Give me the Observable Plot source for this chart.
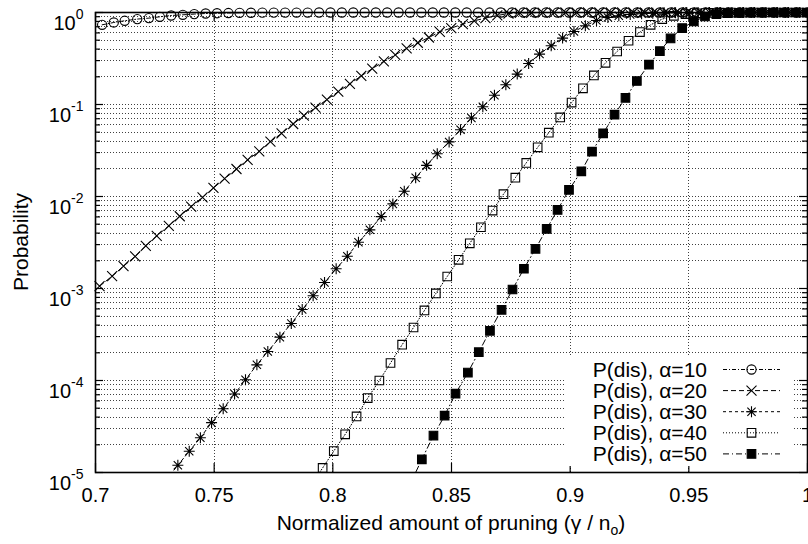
<!DOCTYPE html>
<html><head><meta charset="utf-8">
<script src="https://cdn.jsdelivr.net/npm/d3@7"></script>
<script src="https://cdn.jsdelivr.net/npm/@observablehq/plot@0.6"></script>
<style>
html,body{margin:0;padding:0;background:#fff;}
#chart{width:808px;height:544px;overflow:hidden;}
</style></head><body><div id="chart"></div>
<script>
// ---------- data ----------
const x10 = [0.7028,0.7077,0.7123,0.7176,0.7225,0.7271,0.7319,0.7368,0.7416,0.7464,0.7512,0.7560,0.7607,0.7655,0.7703,0.7751,0.7799,0.7847,0.7894,0.7942,0.7990,0.8038,0.8086,0.8134,0.8181,0.8229,0.8277,0.8325,0.8373,0.8421,0.8468,0.8516,0.8564,0.8612,0.8660,0.8708,0.8755,0.8803,0.8851,0.8899,0.8947,0.8995,0.9042,0.9090,0.9138,0.9186,0.9234,0.9282,0.9329,0.9377,0.9425,0.9473,0.9521,0.9569,0.9616,0.9664,0.9712,0.9760,0.9808,0.9856,0.9903,0.9951,0.9999];
const y10 = [0.735,0.779,0.813,0.848,0.869,0.898,0.928,0.944,0.961,0.975,0.982,0.987,0.991,0.994,0.996,0.997,0.998,0.999,0.999,1,1,1,1,1,1,1,1,1,1,1,1,1,1,1,1,1,1,1,1,1,1,1,1,1,1,1,1,1,1,1,1,1,1,1,1,1,1,1,1,1,1,1,1];

const x20 = [0.7017,0.7070,0.7118,0.7167,0.7212,0.7258,0.7309,0.7355,0.7403,0.7451,0.7497,0.7544,0.7594,0.7641,0.7690,0.7737,0.7784,0.7833,0.7878,0.7927,0.7975,0.8023,0.8072,0.8120,0.8166,0.8215,0.8263,0.8311,0.8358,0.8405,0.8451,0.8499,0.8548,0.8596,0.8643,0.8693,0.8740,0.8788,0.8836,0.8884,0.8932,0.8980,0.9027,0.9075,0.9123,0.9171,0.9219,0.9266,0.9314,0.9362,0.9410,0.9458,0.9506,0.9553,0.9601,0.9649,0.9697,0.9745,0.9793,0.9840,0.9888,0.9936,0.9984];
const y20 = [1.06e-3,1.36e-3,1.75e-3,2.23e-3,2.91e-3,3.73e-3,4.80e-3,6.10e-3,7.77e-3,9.80e-3,1.24e-2,1.56e-2,1.99e-2,2.50e-2,3.10e-2,3.95e-2,4.86e-2,6.14e-2,7.56e-2,9.23e-2,0.113,0.138,0.168,0.205,0.245,0.294,0.347,0.407,0.469,0.535,0.617,0.677,0.748,0.813,0.869,0.928,0.975,0.988,0.994,0.997,0.999,1,1,1,1,1,1,1,1,1,1,1,1,1,1,1,1,1,1,1,1,1,1];

const x30 = [0.7299,0.7347,0.7395,0.7442,0.7489,0.7538,0.7586,0.7632,0.7680,0.7726,0.7777,0.7825,0.7871,0.7917,0.7965,0.8014,0.8061,0.8108,0.8156,0.8204,0.8253,0.8301,0.8349,0.8395,0.8440,0.8490,0.8538,0.8584,0.8632,0.8681,0.8729,0.8777,0.8825,0.8871,0.8920,0.8968,0.9016,0.9064,0.9111,0.9159,0.9205,0.9253,0.9301,0.9348,0.9396,0.9444,0.9491,0.9539,0.9587,0.9634,0.9682,0.9730,0.9777,0.9825,0.9873,0.9920,0.9968];
const y30 = [8.4e-6,1.20e-5,1.70e-5,2.39e-5,3.48e-5,4.94e-5,7.12e-5,1.02e-4,1.48e-4,2.07e-4,2.96e-4,4.17e-4,5.91e-4,8.34e-4,1.16e-3,1.64e-3,2.24e-3,3.18e-3,4.34e-3,6.05e-3,8.31e-3,1.14e-2,1.60e-2,2.18e-2,2.92e-2,3.92e-2,5.32e-2,7.13e-2,9.46e-2,0.126,0.164,0.214,0.279,0.353,0.435,0.527,0.622,0.717,0.819,0.883,0.921,0.950,0.970,0.983,0.991,0.995,0.998,0.999,1,1,1,1,1,1,1,1,1];

const x40 = [0.7909,0.7957,0.8004,0.8052,0.8100,0.8147,0.8196,0.8243,0.8292,0.8340,0.8386,0.8434,0.8482,0.8530,0.8577,0.8624,0.8673,0.8719,0.8769,0.8815,0.8863,0.8910,0.8958,0.9006,0.9054,0.9100,0.9149,0.9198,0.9246,0.9294,0.9339,0.9388,0.9437,0.9486,0.9534,0.9582,0.9630,0.9677,0.9725,0.9773,0.9821,0.9868,0.9916,0.9964];
const y40 = [7.3e-6,1.12e-5,1.71e-5,2.60e-5,4.07e-5,6.44e-5,1.00e-4,1.55e-4,2.45e-4,3.77e-4,5.77e-4,8.83e-4,1.35e-3,2.05e-3,3.10e-3,4.63e-3,7.03e-3,1.06e-2,1.60e-2,2.32e-2,3.42e-2,4.94e-2,7.24e-2,0.105,0.150,0.207,0.284,0.377,0.493,0.612,0.735,0.848,0.921,0.961,0.980,0.990,0.995,0.998,0.999,1,1,1,1,1];

const x50 = [0.8327,0.8375,0.8424,0.8471,0.8517,0.8569,0.8615,0.8662,0.8711,0.8757,0.8805,0.8854,0.8901,0.8947,0.8995,0.9047,0.9092,0.9139,0.9187,0.9233,0.9281,0.9332,0.9378,0.9423,0.9472,0.9521,0.9568,0.9616,0.9663,0.9711,0.9759,0.9806,0.9854,0.9901,0.9949,0.9997];
const y50 = [7.6e-6,1.39e-5,2.52e-5,4.15e-5,7.19e-5,1.22e-4,2.03e-4,3.47e-4,5.87e-4,9.75e-4,1.64e-3,2.70e-3,4.45e-3,7.15e-3,1.18e-2,1.88e-2,3.07e-2,4.86e-2,7.75e-2,0.118,0.180,0.271,0.381,0.522,0.677,0.798,0.905,0.961,0.982,0.992,0.997,0.999,1,1,1,1];

const seriesNames = ["P(dis), α=10","P(dis), α=20","P(dis), α=30","P(dis), α=40","P(dis), α=50"];
const xTicks = [0.7,0.75,0.8,0.85,0.9,0.95,1.0];
const xTickLabels = ["0.7","0.75","0.8","0.85","0.9","0.95","1"];
const xGridTicks = [0.75,0.8,0.85,0.9,0.95];
const yMajor = [1e-5,1e-4,1e-3,1e-2,1e-1,1];
const yExponents = ["-5","-4","-3","-2","-1","0"];
const xLabel = "Normalized amount of pruning (γ / n";
const xLabelSub = "o";
const yLabel = "Probability";

// ---------- styling ----------
const FONT = "'Liberation Sans', Arial, Helvetica, sans-serif";
const W = 808, H = 544, ML = 95, MR = 1, MT = 12, MB = 72;
const FW = W - ML - MR, FH = H - MT - MB;

function mkSym(fn){ return {draw(ctx, size){ const r = Math.sqrt(size/Math.PI); fn(ctx, r); }}; }
const symCircle = mkSym((c,r)=>{ c.moveTo(r,0); c.arc(0,0,r,0,2*Math.PI); c.closePath(); });
const symTimes = mkSym((c,r)=>{ c.moveTo(-r,-r); c.lineTo(r,r); c.moveTo(-r,r); c.lineTo(r,-r); });
const symStar = mkSym((c,r)=>{ c.moveTo(-r,0); c.lineTo(r,0); c.moveTo(0,-r); c.lineTo(0,r); const d=r*0.75; c.moveTo(-d,-d); c.lineTo(d,d); c.moveTo(-d,d); c.lineTo(d,-d); });
const symSquare = mkSym((c,r)=>{ c.moveTo(-r,-r); c.lineTo(r,-r); c.lineTo(r,r); c.lineTo(-r,r); c.closePath(); });

const styles = [
  {sym: symCircle, r: 4.6, fill: "white", fillOpacity: 0, dash: "4,2,1,2"},
  {sym: symTimes,  r: 5,   fill: "none", dash: "5,3"},
  {sym: symStar,   r: 5.5, fill: "none", dash: "3,3"},
  {sym: symSquare, r: 4.3, fill: "white", fillOpacity: 0, dash: "1,2"},
  {sym: symSquare, r: 4.3, fill: "black", fillOpacity: 1, dash: "6,3,1,3"}
];
const xsAll = [x10,x20,x30,x40,x50], ysAll = [y10,y20,y30,y40,y50];
const tables = xsAll.map((xs,i)=> xs.map((x,j)=>({x, y: ysAll[i][j]})).filter(d=>d.y!==undefined));

const yGrid = d3.scaleLog().domain([1e-5,1]).ticks();
const yMinor = yGrid.filter(v => !yMajor.some(m => Math.abs(m - v) / m < 1e-9));

const gridStyle = {stroke: "#000", strokeOpacity: 0.75, strokeWidth: 1, strokeDasharray: "1,2", shapeRendering: "crispEdges"};
const marks = [
  Plot.gridY(yGrid, gridStyle),
  Plot.gridX(xGridTicks, gridStyle),
  Plot.ruleY(yMajor, {insetRight: FW - 8, stroke: "black", strokeWidth: 1.2}),
  Plot.ruleY(yMajor, {insetLeft: FW - 8, stroke: "black", strokeWidth: 1.2}),
  Plot.ruleY(yMinor, {insetRight: FW - 5, stroke: "black", strokeWidth: 1.2}),
  Plot.ruleY(yMinor, {insetLeft: FW - 5, stroke: "black", strokeWidth: 1.2}),
  Plot.ruleX(xTicks, {insetTop: FH - 9, stroke: "black", strokeWidth: 1.2}),
  Plot.ruleX(xTicks, {insetBottom: FH - 9, stroke: "black", strokeWidth: 1.2}),
  Plot.axisX({ticks: xTicks, tickSize: 0, tickPadding: 15, tickFormat: (d) => xTickLabels[xTicks.indexOf(d)], fontSize: 20, label: null}),
  Plot.axisY({ticks: yMajor, tickSize: 0, tickPadding: 12, tickFormat: (d) => yExponents[yMajor.indexOf(d)], fontSize: 20, label: null}),
];
tables.forEach((t,i)=>{
  const s = styles[i];
  marks.push(Plot.line(t, {x: "x", y: "y", stroke: "black", strokeWidth: 1, strokeDasharray: s.dash, clip: true}));
});
tables.forEach((t,i)=>{
  const s = styles[i];
  marks.push(Plot.dot(t.filter(d => d.y >= 1e-5), {x: "x", y: "y", symbol: s.sym, r: s.r, stroke: "black", strokeWidth: 1.1, fill: s.fill === "none" ? "none" : s.fill, fillOpacity: s.fillOpacity ?? 1}));
});
marks.push(Plot.frame({stroke: "black", strokeWidth: 1.6}));

const plot = Plot.plot({
  width: W, height: H,
  marginLeft: ML, marginRight: MR, marginTop: MT, marginBottom: MB,
  x: {domain: [0.7, 1.0]},
  y: {type: "log", domain: [1e-5, 1]},
  style: {fontFamily: FONT, fontSize: "20px", background: "white", color: "black", overflow: "visible"},
  marks
});
document.getElementById("chart").appendChild(plot);

const svg = d3.select(plot);
// y tick labels: 10^k with superscript
svg.selectAll('g[aria-label="y-axis tick label"] text').each(function(){
  const t = d3.select(this);
  const e = t.text();
  t.text("10").attr("dy", "11.3");
  t.append("tspan").attr("font-size", 14).attr("dy", -11).text(e);
});

const xs = plot.scale("x"), ysc = plot.scale("y");
const cx = (xs.range[0] + xs.range[1]) / 2;
const cy = (ysc.range[0] + ysc.range[1]) / 2;
// axis titles
const xl = svg.append("text").attr("x", cx).attr("y", 529.5).attr("text-anchor", "middle")
  .attr("font-family", FONT).attr("font-size", 21).attr("fill", "black").text(xLabel);
xl.append("tspan").attr("font-size", 14).attr("dy", 5).text(xLabelSub);
xl.append("tspan").attr("dy", -5).text(")");
svg.append("text").attr("transform", `translate(28.3,${cy}) rotate(-90)`).attr("text-anchor", "middle")
  .attr("font-family", FONT).attr("font-size", 21).attr("fill", "black").text(yLabel);

// legend (inside plot, bottom right)
const lg = svg.append("g");
lg.append("rect").attr("x", 565).attr("y", 356).attr("width", 228).attr("height", 110).attr("fill", "white");
seriesNames.forEach((name, i) => {
  const s = styles[i];
  const yy = 369.5 + i * 21.1;
  lg.append("text").attr("x", 707).attr("y", yy).attr("dy", "0.35em").attr("text-anchor", "end")
    .attr("font-family", FONT).attr("font-size", 21).attr("fill", "black").text(name);
  lg.append("line").attr("x1", 723).attr("x2", 780).attr("y1", yy).attr("y2", yy)
    .attr("stroke", "black").attr("stroke-width", 1).attr("stroke-dasharray", s.dash);
  lg.append("path").attr("transform", `translate(751.5,${yy})`)
    .attr("d", d3.symbol(s.sym, Math.PI * s.r * s.r)())
    .attr("stroke", "black").attr("stroke-width", 1.1)
    .attr("fill", s.fill === "none" ? "none" : s.fill).attr("fill-opacity", s.fillOpacity ?? 1);
});
</script></body></html>
